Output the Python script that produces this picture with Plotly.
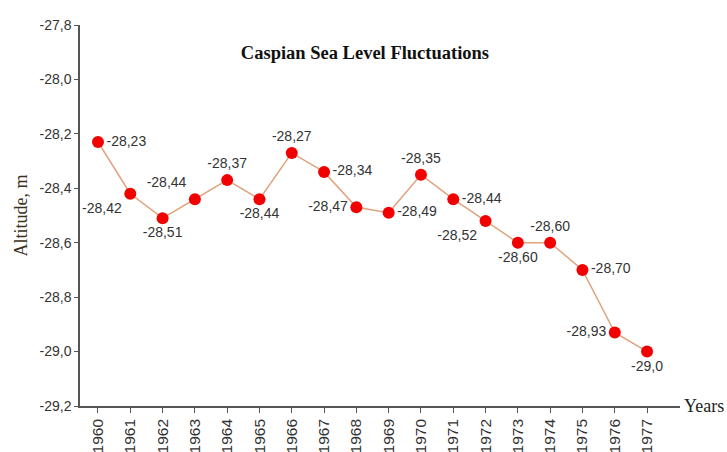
import plotly.graph_objects as go

years = list(range(1960, 1978))
levels = [-28.23, -28.42, -28.51, -28.44, -28.37, -28.44, -28.27, -28.34, -28.47,
          -28.49, -28.35, -28.44, -28.52, -28.60, -28.60, -28.70, -28.93, -29.0]
labels = ["-28,23", "-28,42", "-28,51", "-28,44", "-28,37", "-28,44", "-28,27", "-28,34",
          "-28,47", "-28,49", "-28,35", "-28,44", "-28,52", "-28,60", "-28,60", "-28,70",
          "-28,93", "-29,0"]
positions = ["middle right", "bottom left", "bottom center", "top left", "top center",
             "bottom center", "top center", "middle right", "middle left", "middle right",
             "top center", "middle right", "bottom left", "bottom center", "top center",
             "middle right", "middle left", "bottom center"]
y_ticks = [-27.8, -28.0, -28.2, -28.4, -28.6, -28.8, -29.0, -29.2]
y_ticklabels = ["-27,8", "-28,0", "-28,2", "-28,4", "-28,6", "-28,8", "-29,0", "-29,2"]

fig = go.Figure()
fig.add_trace(go.Scatter(
    x=years, y=levels, mode="lines+markers+text",
    line=dict(color="#E0A27C", width=1.5),
    marker=dict(color="#F20000", size=12),
    text=labels, textposition=positions,
    textfont=dict(family="Liberation Sans, Arial", size=14, color="#333333"),
    cliponaxis=False, showlegend=False,
))

fig.update_layout(
    width=727, height=452,
    margin=dict(l=80, r=47, t=25, b=46),
    paper_bgcolor="white", plot_bgcolor="white",
    title=dict(text="<b>Caspian Sea Level Fluctuations</b>", x=0.502, xanchor="center",
               y=0.883, yanchor="middle",
               font=dict(family="Liberation Serif, Times New Roman", size=18.5, color="#111111")),
    xaxis=dict(range=[1959.443, 1978.02], tickmode="array", tickvals=years,
               ticktext=[str(y) for y in years], tickangle=-90, automargin=False,
               showline=True, linecolor="#555555", linewidth=1.5,
               ticks="outside", ticklen=5, tickcolor="#555555",
               showgrid=False, zeroline=False,
               tickfont=dict(family="Liberation Sans, Arial", size=15.5, color="#333333")),
    yaxis=dict(range=[-29.2, -27.8], tickmode="array", tickvals=y_ticks,
               ticktext=y_ticklabels, automargin=False,
               showline=True, linecolor="#555555", linewidth=1.5,
               ticks="outside", ticklen=4, tickcolor="#555555",
               showgrid=False, zeroline=False,
               tickfont=dict(family="Liberation Sans, Arial", size=14, color="#333333")),
    annotations=[
        dict(text="Years", xref="paper", yref="paper", x=1.003, y=0,
             xanchor="left", yanchor="middle", showarrow=False,
             font=dict(family="Liberation Serif, Times New Roman", size=18, color="#222222")),
        dict(text="Altitude, m", xref="paper", yref="paper", x=-0.1, y=0.5,
             xanchor="center", yanchor="middle", textangle=-90, showarrow=False,
             font=dict(family="Liberation Serif, Times New Roman", size=18, color="#3a3020")),
    ],
)

fig.write_html("out.html", config={"displayModeBar": False},
               post_script="document.body.style.margin='0';")
